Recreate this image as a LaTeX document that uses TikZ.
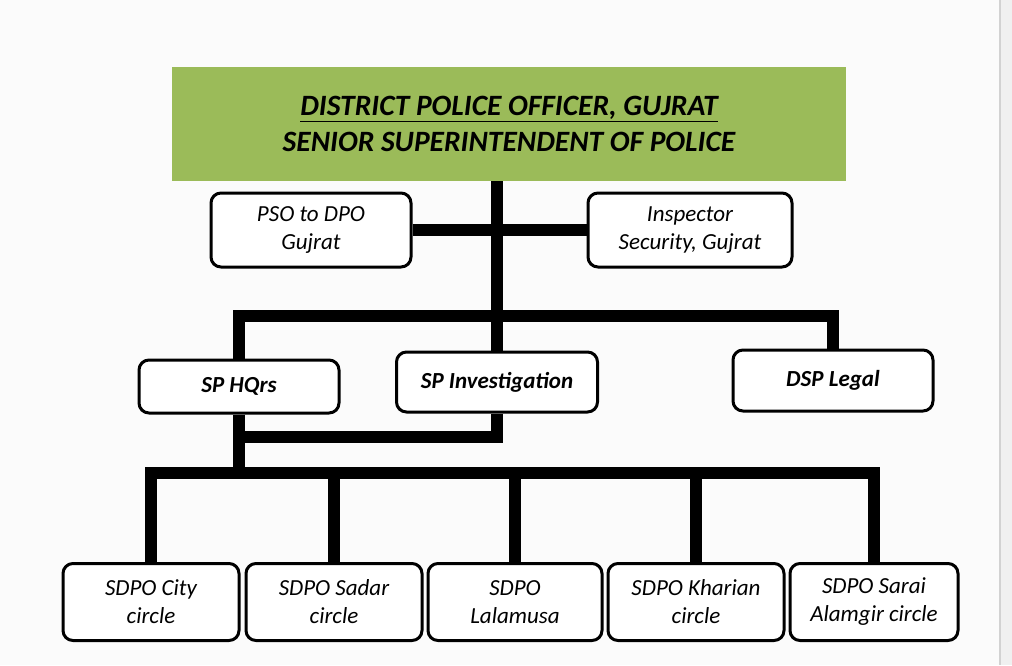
\documentclass[tikz,border=0pt]{standalone}
\usepackage{fontspec}
\setmainfont{Carlito}
\definecolor{hdrgreen}{HTML}{9BBB59}
\definecolor{bgpage}{HTML}{FBFBFB}
\definecolor{bgside}{HTML}{F0F0F0}
\definecolor{sideline}{HTML}{D2D2D2}
\begin{document}
\begin{tikzpicture}[x=1pt,y=-1pt,
  box/.style={draw=black, line width=3pt, rounded corners=10pt, fill=white,
    align=center, inner sep=0pt, font=\fontsize{23}{28}\selectfont\itshape},
  boldbox/.style={box, font=\fontsize{23}{28}\selectfont\bfseries\itshape},
  conn/.style={draw=black, line width=12pt, line join=miter}]
\useasboundingbox (0,0) rectangle (1012,665);
\fill[bgpage] (0,0) rectangle (1000,665);
\fill[bgside] (1000,0) rectangle (1012,665);
\draw[sideline, line width=1.5pt] (1000,0) -- (1000,665);

% header
\node[fill=hdrgreen, minimum width=674pt, minimum height=114pt, inner sep=0pt,
  align=center, font=\fontsize{29.5}{36}\selectfont\bfseries\itshape]
  (dpo) at (509,124) {\underline{DISTRICT POLICE OFFICER, GUJRAT}\\SENIOR SUPERINTENDENT OF POLICE};

% staff
\node[box, minimum width=200pt, minimum height=74pt] (pso) at (311,230) {PSO to DPO\\Gujrat};
\node[box, minimum width=204pt, minimum height=74pt] (insp) at (690,230) {Inspector\\Security, Gujrat};

% second level
\node[boldbox, minimum width=200pt, minimum height=53pt] (hq) at (239,386.5) {SP HQrs};
\node[boldbox, minimum width=201pt, minimum height=60pt] (inv) at (497,382) {SP Investigation};
\node[boldbox, minimum width=200pt, minimum height=61pt] (dsp) at (833,380.5) {DSP Legal};

% circles
\node[box, minimum width=176pt, minimum height=77pt] (c1) at (151,602) {SDPO City\\circle};
\node[box, minimum width=176pt, minimum height=77pt] (c2) at (334,602) {SDPO Sadar\\circle};
\node[box, minimum width=174pt, minimum height=77pt] (c3) at (515,602) {SDPO\\Lalamusa};
\node[box, minimum width=176pt, minimum height=77pt] (c4) at (696,602) {SDPO Kharian\\circle};
\node[box, minimum width=168pt, minimum height=77pt] (c5) at (874,602) {SDPO Sarai\\Alamgir circle};

% junction coordinates
\coordinate (jt) at (497,316);
\coordinate (jm) at (497,437);
\coordinate (jb) at (239,473);

% connectors
\draw[conn] (dpo.south -| jt) -- (inv.north);
\draw[conn] (pso.east) -- (insp.west);
\draw[conn] (hq.north) |- (jt) -| (dsp.north);
\draw[conn] (inv.south) |- (hq.south |- jm) -- (hq.south);
\draw[conn] (hq.south) -- (jb);
\draw[conn] (c1.north) |- (jb) -| (c5.north);
\draw[conn] (c2.north) -- (c2.north |- jb);
\draw[conn] (c3.north) -- (c3.north |- jb);
\draw[conn] (c4.north) -- (c4.north |- jb);
\end{tikzpicture}
\end{document}
